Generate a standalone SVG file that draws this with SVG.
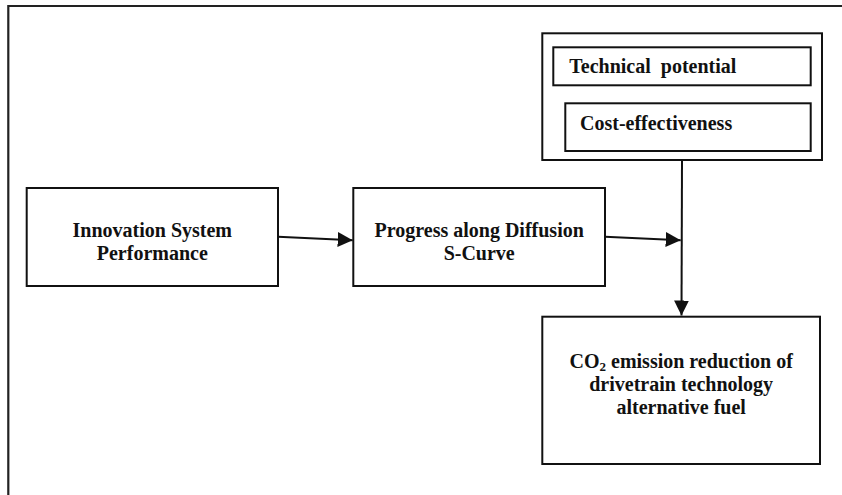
<svg xmlns="http://www.w3.org/2000/svg" width="842" height="495" viewBox="0 0 842 495">
  <style>
    .box { fill: #ffffff; stroke: #111111; stroke-width: 2; }
    .frame { fill: none; stroke: #222222; stroke-width: 2.2; }
    .label { font-family: "Liberation Serif", "Times New Roman", serif; font-weight: bold; font-size: 20px; fill: #111111; }
    .mid { text-anchor: middle; }
    .edge { fill: none; stroke: #111111; stroke-width: 2; }
  </style>
  <defs>
    <marker id="arrow" viewBox="0 0 15 15" refX="15" refY="7.5" markerWidth="15" markerHeight="15" markerUnits="userSpaceOnUse" orient="auto">
      <path d="M0,0 L15,7.5 L0,15 Z" fill="#111111"/>
    </marker>
  </defs>

  <rect width="842" height="495" fill="#ffffff"/>

  <!-- page frame, running off the right and bottom edges -->
  <path class="frame" d="M8.3,497 L8.3,6 L845,6"/>

  <g id="innovation-system">
    <rect class="box" x="26.7" y="188" width="251.3" height="98"/>
    <text class="label mid" x="152.3" y="236.7">Innovation System</text>
    <text class="label mid" x="152.3" y="260">Performance</text>
  </g>

  <g id="diffusion-s-curve">
    <rect class="box" x="353.3" y="188" width="251.7" height="98"/>
    <text class="label mid" x="479.2" y="236.7">Progress along Diffusion</text>
    <text class="label mid" x="479.2" y="260">S-Curve</text>
  </g>

  <g id="factors">
    <rect class="box" x="542.3" y="33.3" width="279.7" height="126.7"/>
    <g id="technical-potential">
      <rect class="box" x="553.3" y="47.3" width="257.4" height="38"/>
      <text class="label" x="569.3" y="73.3" xml:space="preserve">Technical  potential</text>
    </g>
    <g id="cost-effectiveness">
      <rect class="box" x="565.3" y="103.3" width="245.4" height="47.7"/>
      <text class="label" x="580" y="130">Cost-effectiveness</text>
    </g>
  </g>

  <g id="co2-reduction">
    <rect class="box" x="542.3" y="316.7" width="277.7" height="147.3"/>
    <text class="label mid" x="681.2" y="368.3">CO<tspan font-size="13" dy="3">2</tspan><tspan dy="-3"> emission reduction of</tspan></text>
    <text class="label mid" x="681.2" y="391.3">drivetrain technology</text>
    <text class="label mid" x="681.2" y="414.3">alternative fuel</text>
  </g>

  <g id="connectors">
    <line class="edge" x1="278" y1="236.8" x2="352.7" y2="240.2" marker-end="url(#arrow)"/>
    <line class="edge" x1="605" y1="236.8" x2="680.7" y2="240.2" marker-end="url(#arrow)"/>
    <line class="edge" x1="682" y1="160" x2="681.5" y2="315.5" marker-end="url(#arrow)"/>
  </g>
</svg>
